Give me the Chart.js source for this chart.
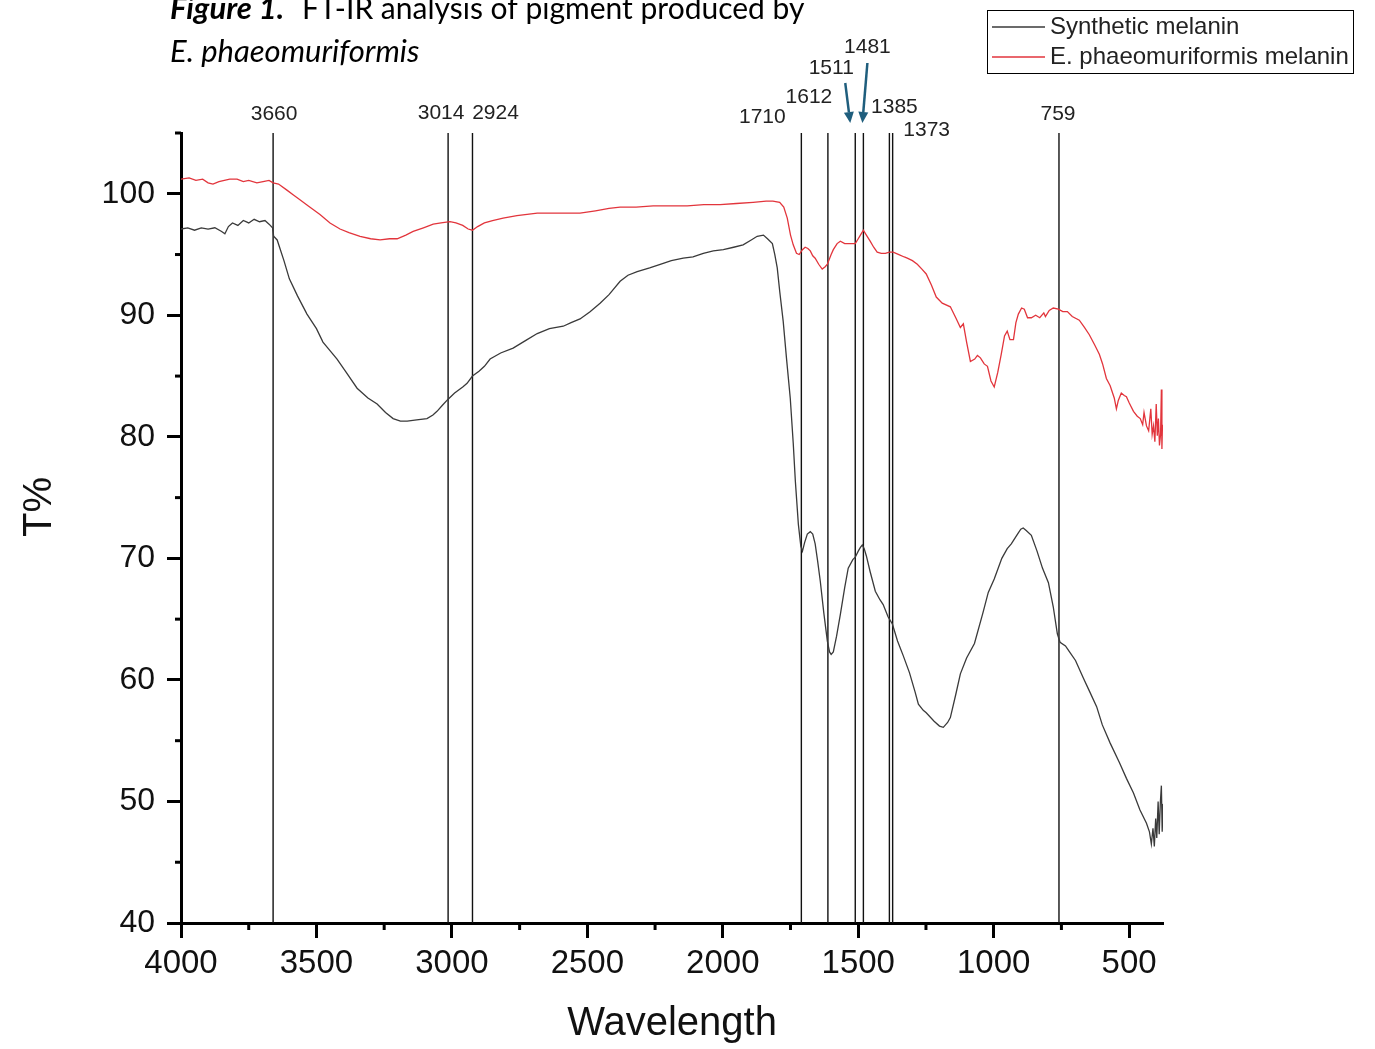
<!DOCTYPE html>
<html>
<head>
<meta charset="utf-8">
<title>FT-IR analysis of pigment</title>
<script src="https://cdn.jsdelivr.net/npm/chart.js@4.4.1/dist/chart.umd.min.js"></script>
<style>
  html, body { margin: 0; padding: 0; background: #fff; }
  #wrap { position: relative; width: 1375px; height: 1049px; }
</style>
</head>
<body>
<div id="wrap"><canvas id="ftirChart" width="1375" height="1049"></canvas></div>
<script>
// axis ticks
const xTickValues = [4000, 3500, 3000, 2500, 2000, 1500, 1000, 500];
const xMinorTickValues = [3750, 3250, 2750, 2250, 1750, 1250, 750];
const yTickValues = [40, 50, 60, 70, 80, 90, 100];
const yMinorTickValues = [45, 55, 65, 75, 85, 95, 105];

// marked bands (cm-1)
const peakWavenumbers = [3660, 3014, 2924, 1710, 1612, 1511, 1481, 1385, 1373, 759];
const peakLabels = ['3660', '3014', '2924', '1710', '1612', '1511', '1481', '1385', '1373', '759'];
const arrowPeaks = [1511, 1481];

const seriesNames = ['Synthetic melanin', 'E. phaeomuriformis melanin'];

// Synthetic melanin spectrum
const synthWavenumber = [
  4000, 3975, 3950, 3925, 3900, 3875, 3850, 3838, 3825, 3810,
  3790, 3770, 3750, 3730, 3710, 3690, 3675, 3662, 3658, 3645,
  3620, 3600, 3570, 3535, 3500, 3476, 3450, 3424, 3390, 3350,
  3310, 3276, 3245, 3217, 3190, 3165, 3130, 3092, 3070, 3055,
  3035, 3014, 2990, 2960, 2944, 2924, 2900, 2880, 2859, 2820,
  2774, 2730, 2685, 2640, 2589, 2560, 2527, 2490, 2453, 2420,
  2379, 2350, 2316, 2270, 2231, 2190, 2146, 2110, 2072, 2035,
  1998, 1960, 1925, 1895, 1873, 1850, 1835, 1817, 1808, 1799,
  1790, 1777, 1765, 1751, 1740, 1732, 1721, 1712, 1706, 1698,
  1688, 1677, 1668, 1659, 1650, 1640, 1627, 1614, 1606, 1600,
  1592, 1580, 1566, 1550, 1537, 1520, 1511, 1500, 1492, 1485,
  1478, 1470, 1456, 1437, 1420, 1408, 1390, 1374, 1355, 1334,
  1311, 1290, 1278, 1260, 1249, 1220, 1200, 1186, 1170, 1160,
  1140, 1123, 1100, 1071, 1040, 1020, 998, 970, 950, 935,
  912, 900, 891, 880, 861, 840, 820, 798, 780, 765,
  755, 735, 720, 698, 670, 647, 620, 599, 570, 536,
  510, 484, 460, 436, 425, 418, 412, 407, 402, 398,
  393, 389, 385, 381, 378, 375
];
const synthTransmittance = [
  97.1, 97.2, 97.0, 97.2, 97.1, 97.2, 96.9, 96.7, 97.3, 97.6,
  97.4, 97.8, 97.6, 97.9, 97.7, 97.8, 97.5, 97.2, 96.5, 96.2,
  94.5, 93.0, 91.6, 90.1, 88.9, 87.8, 87.1, 86.4, 85.3, 84.0,
  83.2, 82.7, 82.0, 81.5, 81.3, 81.3, 81.4, 81.5, 81.8, 82.1,
  82.6, 83.1, 83.6, 84.1, 84.4, 85.0, 85.4, 85.8, 86.4, 86.9,
  87.3, 87.9, 88.5, 88.9, 89.1, 89.4, 89.7, 90.3, 91.0, 91.7,
  92.8, 93.3, 93.6, 93.9, 94.2, 94.5, 94.7, 94.8, 95.1, 95.3,
  95.4, 95.6, 95.8, 96.2, 96.5, 96.6, 96.3, 95.9, 95.0, 93.9,
  92.0, 89.5, 86.5, 83.2, 79.5, 76.3, 72.8, 71.0, 70.6, 71.3,
  72.0, 72.2, 72.0, 71.2, 69.8, 68.1, 65.5, 63.2, 62.3, 62.1,
  62.3, 63.6, 65.4, 67.6, 69.2, 69.9, 70.1, 70.6, 70.9, 71.1,
  70.8, 70.2, 68.9, 67.3, 66.6, 66.2, 65.2, 64.6, 63.2, 62.0,
  60.6, 59.0, 58.0, 57.5, 57.3, 56.6, 56.2, 56.1, 56.5, 56.9,
  58.8, 60.5, 61.8, 63.0, 65.5, 67.2, 68.3, 70.0, 70.8, 71.2,
  72.0, 72.4, 72.5, 72.3, 71.9, 70.6, 69.2, 68.0, 66.0, 63.8,
  63.1, 62.8, 62.3, 61.6, 60.2, 59.1, 57.8, 56.3, 54.8, 53.2,
  51.9, 50.7, 49.3, 48.2, 47.5, 46.5, 47.8, 46.3, 48.6, 47.0,
  50.0, 47.3, 49.8, 51.3, 47.5, 49.8
];

// E. phaeomuriformis melanin spectrum
const fungalWavenumber = [
  4000, 3970, 3945, 3920, 3900, 3882, 3860, 3840, 3820, 3793,
  3770, 3750, 3720, 3697, 3675, 3660, 3640, 3609, 3585, 3561,
  3530, 3487, 3450, 3413, 3380, 3339, 3300, 3265, 3230, 3202,
  3170, 3143, 3105, 3069, 3040, 3007, 2985, 2960, 2940, 2924,
  2905, 2880, 2850, 2811, 2760, 2685, 2600, 2527, 2470, 2420,
  2379, 2320, 2257, 2190, 2131, 2070, 2010, 1950, 1888, 1840,
  1815, 1790, 1775, 1762, 1750, 1740, 1728, 1718, 1706, 1696,
  1686, 1677, 1668, 1659, 1646, 1633, 1622, 1614, 1600, 1592,
  1578, 1566, 1550, 1529, 1511, 1500, 1492, 1481, 1470, 1456,
  1443, 1430, 1415, 1400, 1385, 1371, 1350, 1330, 1319, 1300,
  1282, 1265, 1249, 1230, 1212, 1190, 1160, 1140, 1123, 1112,
  1100, 1086, 1070, 1060, 1049, 1035, 1023, 1010, 998, 985,
  972, 960, 950, 940, 927, 918, 909, 897, 887, 875,
  861, 845, 830, 815, 809, 795, 780, 761, 745, 728,
  710, 684, 665, 647, 628, 610, 598, 584, 570, 555,
  547, 540, 529, 518, 510, 500, 484, 470, 459, 450,
  445, 436, 428, 420, 415, 410, 405, 400, 396, 392,
  388, 384, 381, 379, 377, 375
];
const fungalTransmittance = [
  101.2, 101.3, 101.1, 101.2, 100.9, 100.8, 101.0, 101.1, 101.2, 101.2,
  101.0, 101.1, 100.9, 101.0, 101.1, 100.9, 100.8, 100.3, 99.9, 99.5,
  99.0, 98.3, 97.6, 97.1, 96.8, 96.5, 96.3, 96.2, 96.3, 96.3,
  96.6, 96.9, 97.2, 97.5, 97.6, 97.7, 97.6, 97.4, 97.1, 97.0,
  97.3, 97.6, 97.8, 98.0, 98.2, 98.4, 98.4, 98.4, 98.6, 98.8,
  98.9, 98.9, 99.0, 99.0, 99.0, 99.1, 99.1, 99.2, 99.3, 99.4,
  99.4, 99.3, 98.9, 98.0, 96.6, 95.8, 95.1, 95.0, 95.4, 95.6,
  95.5, 95.3, 94.9, 94.7, 94.2, 93.8, 94.0, 94.2, 95.0, 95.4,
  95.9, 96.1, 95.9, 95.9, 95.9, 96.3, 96.6, 97.0, 96.6, 96.1,
  95.6, 95.2, 95.1, 95.1, 95.2, 95.2, 95.0, 94.8, 94.7, 94.5,
  94.2, 93.8, 93.4, 92.5, 91.5, 91.0, 90.7, 89.8, 89.0, 89.3,
  87.8, 86.2, 86.4, 86.7, 86.5, 86.0, 85.8, 84.6, 84.1, 85.3,
  86.8, 88.3, 88.7, 88.0, 88.0, 89.4, 90.1, 90.6, 90.5, 89.8,
  89.8, 90.0, 89.8, 90.2, 89.9, 90.4, 90.6, 90.5, 90.3, 90.3,
  89.9, 89.6, 89.0, 88.4, 87.6, 86.8, 86.0, 84.8, 84.2, 83.2,
  82.3, 83.0, 83.6, 83.4, 83.3, 82.8, 82.1, 81.7, 81.5, 81.0,
  82.0, 80.9, 80.5, 82.3, 80.2, 80.9, 79.6, 82.7, 80.1, 81.5,
  79.3, 80.2, 83.9, 79.0, 81.0, 80.5
];

document.addEventListener('DOMContentLoaded', function() {
    // turn the two lists into {x, y} points
    function toPoints(xs, ys) {
        return xs.map((v, i) => ({ x: v, y: ys[i] }));
    }

    // label placement next to each band line: horizontal shift and text middle y
    const labelLayout = [
        { dx: 1, y: 114 }, { dx: -7, y: 113 }, { dx: 23, y: 113 }, { dx: -39, y: 117 },
        { dx: -19, y: 97 }, { dx: -24, y: 68 }, { dx: 4, y: 47 }, { dx: 5, y: 107 },
        { dx: 34, y: 130 }, { dx: -1, y: 114 }
    ];
    // arrows from the crowded labels down to their lines
    const arrowLayout = [
        { tailDx: -10, tailY: 83, tipDx: -5, tipY: 123 },
        { tailDx: 4, tailY: 63, tipDx: -1, tipY: 123 }
    ];

    const decorPlugin = {
        id: 'ftirDecor',
        beforeDatasetsDraw(chart) {
            const { ctx, chartArea, scales: { x } } = chart;
            ctx.save();
            ctx.strokeStyle = '#111';
            ctx.lineWidth = 1.4;
            peakWavenumbers.forEach(wn => {
                const px = x.getPixelForValue(wn);
                ctx.beginPath();
                ctx.moveTo(px, chartArea.top);
                ctx.lineTo(px, chartArea.bottom);
                ctx.stroke();
            });
            ctx.restore();
        },
        afterDraw(chart) {
            const { ctx, chartArea, scales: { x, y } } = chart;
            ctx.save();

            // minor ticks
            ctx.strokeStyle = '#000';
            ctx.lineWidth = 3;
            xMinorTickValues.forEach(v => {
                const px = x.getPixelForValue(v);
                ctx.beginPath();
                ctx.moveTo(px, chartArea.bottom);
                ctx.lineTo(px, chartArea.bottom + 7);
                ctx.stroke();
            });
            yMinorTickValues.forEach(v => {
                const py = y.getPixelForValue(v);
                ctx.beginPath();
                ctx.moveTo(chartArea.left - 6, py);
                ctx.lineTo(chartArea.left, py);
                ctx.stroke();
            });

            // y axis title, sits a bit above the middle of the axis
            ctx.fillStyle = '#111';
            ctx.font = '40px "Liberation Sans", Arial, sans-serif';
            ctx.textAlign = 'center';
            ctx.textBaseline = 'middle';
            ctx.save();
            ctx.translate(40, 507);
            ctx.rotate(-Math.PI / 2);
            ctx.fillText('T%', 0, 0);
            ctx.restore();

            // band labels
            ctx.fillStyle = '#222';
            ctx.font = '21px "Liberation Sans", Arial, sans-serif';
            peakWavenumbers.forEach((wn, i) => {
                const px = x.getPixelForValue(wn);
                ctx.fillText(peakLabels[i], px + labelLayout[i].dx, labelLayout[i].y);
            });

            // arrows
            ctx.strokeStyle = '#1f5e7d';
            ctx.fillStyle = '#1f5e7d';
            ctx.lineWidth = 2.5;
            arrowPeaks.forEach((wn, i) => {
                const px = x.getPixelForValue(wn);
                const a = arrowLayout[i];
                const x0 = px + a.tailDx, y0 = a.tailY, x1 = px + a.tipDx, y1 = a.tipY;
                const ang = Math.atan2(y1 - y0, x1 - x0);
                const hx = x1 - 11 * Math.cos(ang), hy = y1 - 11 * Math.sin(ang);
                ctx.beginPath();
                ctx.moveTo(x0, y0);
                ctx.lineTo(hx, hy);
                ctx.stroke();
                ctx.beginPath();
                ctx.moveTo(x1, y1);
                ctx.lineTo(hx + 5 * Math.sin(ang), hy - 5 * Math.cos(ang));
                ctx.lineTo(hx - 5 * Math.sin(ang), hy + 5 * Math.cos(ang));
                ctx.closePath();
                ctx.fill();
            });

            // legend box
            ctx.strokeStyle = '#000';
            ctx.lineWidth = 1;
            ctx.strokeRect(987.5, 10.5, 366, 63);
            const legendColors = ['#3a3a3a', '#e2353c'];
            const legendY = [27, 57];
            ctx.font = '24px "Liberation Sans", Arial, sans-serif';
            ctx.textAlign = 'left';
            ctx.fillStyle = '#222';
            seriesNames.forEach((name, i) => {
                ctx.strokeStyle = legendColors[i];
                ctx.lineWidth = 1.3;
                ctx.beginPath();
                ctx.moveTo(992, legendY[i]);
                ctx.lineTo(1045, legendY[i]);
                ctx.stroke();
                ctx.fillText(name, 1050, legendY[i]);
            });

            // figure caption
            ctx.fillStyle = '#000';
            ctx.textBaseline = 'alphabetic';
            ctx.font = 'italic bold 31px Lato, "Open Sans", sans-serif';
            ctx.fillText('Figure 1.', 170, 19);
            ctx.font = '30px Lato, "Open Sans", sans-serif';
            ctx.fillText('FT-IR analysis of pigment produced by', 302, 19);
            ctx.font = 'italic 31px Lato, "Open Sans", sans-serif';
            ctx.fillText('E. phaeomuriformis', 170, 62);

            ctx.restore();
        }
    };

    const ctx = document.getElementById('ftirChart').getContext('2d');
    const ftirChart = new Chart(ctx, {
        type: 'line',
        data: {
            datasets: [
                {
                    label: seriesNames[0],
                    data: toPoints(synthWavenumber, synthTransmittance),
                    borderColor: '#3a3a3a',
                    borderWidth: 1.3,
                    pointRadius: 0,
                    fill: false
                },
                {
                    label: seriesNames[1],
                    data: toPoints(fungalWavenumber, fungalTransmittance),
                    borderColor: '#e2353c',
                    borderWidth: 1.3,
                    pointRadius: 0,
                    fill: false
                }
            ]
        },
        options: {
            responsive: false,
            animation: false,
            layout: { padding: { top: 133, right: 212, left: 0, bottom: 0 } },
            plugins: {
                legend: { display: false },
                tooltip: { enabled: false }
            },
            scales: {
                x: {
                    type: 'linear',
                    reverse: true,
                    min: 375,
                    max: 4000,
                    afterBuildTicks: scale => { scale.ticks = xTickValues.map(v => ({ value: v })); },
                    afterFit: scale => { scale.height = 126; },
                    border: { display: true, color: '#000', width: 3 },
                    grid: { drawOnChartArea: false, drawTicks: true, tickLength: 15, tickWidth: 3, tickColor: '#000' },
                    ticks: {
                        autoSkip: false,
                        maxRotation: 0,
                        padding: 6,
                        color: '#111',
                        font: { family: '"Liberation Sans", Arial, sans-serif', size: 33 },
                        callback: v => String(v)
                    },
                    title: {
                        display: true,
                        text: 'Wavelength',
                        color: '#111',
                        font: { family: '"Liberation Sans", Arial, sans-serif', size: 40 },
                        padding: { top: 0, bottom: 1 }
                    }
                },
                y: {
                    min: 40,
                    max: 105,
                    afterBuildTicks: scale => { scale.ticks = yTickValues.map(v => ({ value: v })); },
                    afterFit: scale => { scale.width = 181; },
                    border: { display: true, color: '#000', width: 3 },
                    grid: { drawOnChartArea: false, drawTicks: true, tickLength: 14, tickWidth: 3, tickColor: '#000' },
                    ticks: {
                        padding: 12,
                        color: '#111',
                        font: { family: '"Liberation Sans", Arial, sans-serif', size: 32 },
                        callback: v => String(v)
                    }
                }
            }
        },
        plugins: [decorPlugin]
    });
});
</script>
</body>
</html>
